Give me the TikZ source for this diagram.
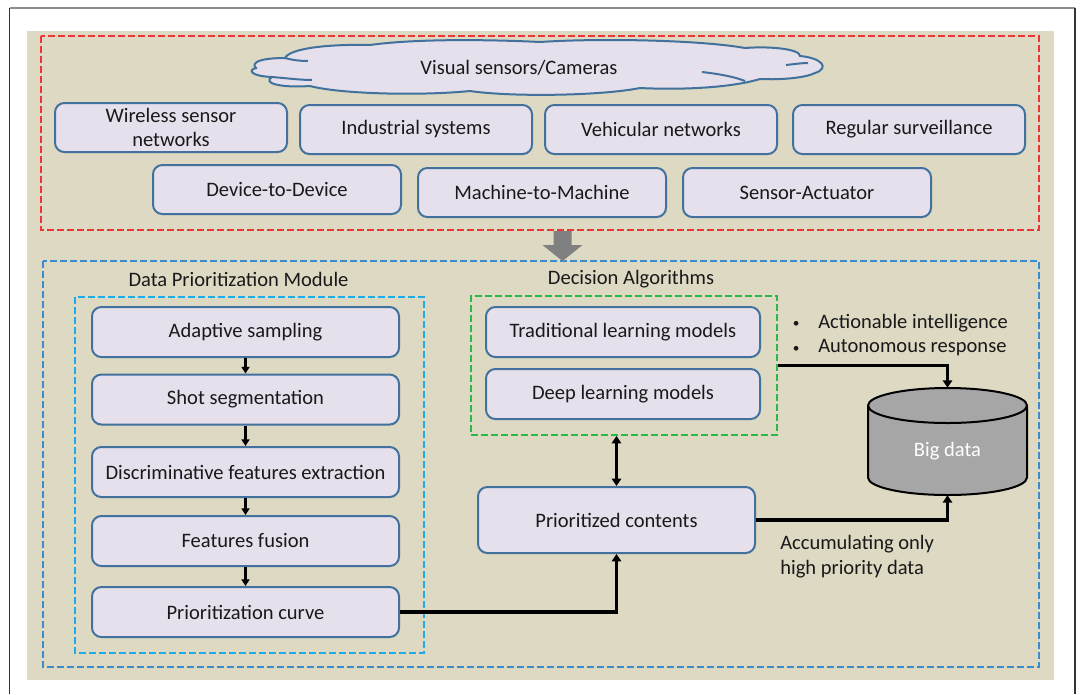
\documentclass[tikz,border=0pt]{standalone}
\usepackage{fontspec}
\setmainfont{Carlito}
\usetikzlibrary{arrows.meta}
\definecolor{bgtan}{RGB}{221,217,195}
\definecolor{boxfill}{RGB}{230,224,236}
\definecolor{boxedge}{RGB}{65,113,156}
\definecolor{redd}{RGB}{238,52,52}
\definecolor{blued}{RGB}{58,140,204}
\definecolor{cyand}{RGB}{30,172,232}
\definecolor{greend}{RGB}{40,185,70}
\definecolor{arrowgray}{RGB}{128,128,128}
\definecolor{cylgray}{RGB}{166,166,166}
\definecolor{txt}{RGB}{25,25,25}
\begin{document}
\begin{tikzpicture}[x=0.75pt,y=-0.75pt,
  every node/.style={font=\fontsize{15.4}{18.75}\selectfont, text=txt},
  sz/.style 2 args={minimum width=#1*0.75pt, minimum height=#2*0.75pt},
  box/.style={draw=boxedge, fill=boxfill, line width=1.5pt, rounded corners=7pt, inner sep=0pt, align=center},
  dashbox/.style={line width=1.4pt, dash pattern=on 5pt off 2.5pt},
  flow/.style={line width=1.6pt, -{Triangle[length=5pt,width=6pt]}},
  conn/.style={line width=2.3pt, -{Triangle[length=5.5pt,width=7pt]}},
  dconn/.style={line width=2.3pt, {Triangle[length=5.5pt,width=7pt]}-{Triangle[length=5.5pt,width=7pt]}},
  cloudline/.style={draw=boxedge, line width=1.5pt}
]
\useasboundingbox (0,0) rectangle (1083,694);
\fill[white] (0,0) rectangle (1083,694);
% outer frame
\draw[black!45, line width=1.5pt] (9.5,8) -- (1075,8);
\draw[black!80, line width=1pt] (9.5,8) -- (9.5,694);
\draw[black!80, line width=1pt] (1075,8) -- (1075,694);
% tan background
\fill[bgtan] (27,31) rectangle (1054,680);
% containers
\draw[redd, dashbox] (41,36) rectangle (1039,230);
\draw[blued, dashbox] (43,261) rectangle (1039,667);
\draw[cyand, dashbox] (75,297) rectangle (424,653);

% cloud
\path[cloudline, fill=boxfill] (256,68)
  .. controls (250,62) and (262,58) .. (285,58)
  .. controls (290,48) and (330,44) .. (370,45)
  .. controls (420,38) and (500,40) .. (540,42)
  .. controls (600,38) and (700,40) .. (745,48)
  .. controls (770,46) and (800,49) .. (800,56)
  .. controls (822,58) and (830,68) .. (815,73)
  .. controls (805,78) and (780,80) .. (760,79)
  .. controls (730,88) and (680,90) .. (640,88)
  .. controls (600,96) and (510,97) .. (470,91)
  .. controls (420,96) and (340,94) .. (310,86)
  .. controls (280,88) and (262,83) .. (272,77)
  .. controls (250,76) and (248,70) .. (256,68) -- cycle;
\draw[cloudline] (272,77) .. controls (285,78) and (300,80) .. (312,80);
\draw[cloudline] (285,58) .. controls (292,60) and (300,61) .. (308,61);
\draw[cloudline] (702,72) .. controls (720,74) and (735,77) .. (745,81);
\draw[cloudline] (786,65) .. controls (795,64) and (802,63) .. (808,63);
\node (cloudtxt) at (519,68) {Visual sensors/Cameras};

% application boxes
\node[box, sz={232}{49}, font=\fontsize{15.4}{17.6}\selectfont] (wsn) at (171,127.5) {Wireless sensor\\networks};
\node[box, sz={232}{49}] (ind) at (416,129.5) {Industrial systems};
\node[box, sz={232}{49}] (veh) at (661,129.5) {Vehicular networks};
\node[box, sz={232}{49}] (reg) at (909,129.5) {Regular surveillance};
\node[box, sz={248}{49}] (d2d) at (277,189.5) {Device-to-Device};
\node[box, sz={248}{49}] (m2m) at (542,192.5) {Machine-to-Machine};
\node[box, sz={248}{49}] (sa) at (807,192.5) {Sensor-Actuator};

% gray block arrow
\fill[arrowgray] (553.5,231) -- (571.5,231) -- (571.5,245) -- (582.5,245) -- (562.5,261) -- (542.5,245) -- (553.5,245) -- cycle;

% data prioritization module
\node (dpmlabel) at (238.5,279) {Data Prioritization Module};
\node[box, sz={307}{50}] (as) at (245.5,332) {Adaptive sampling};
\node[box, sz={307}{50}] (ss) at (245.5,399.5) {Shot segmentation};
\node[box, sz={307}{50}] (dfe) at (245.5,472) {Discriminative features extraction};
\node[box, sz={307}{50}] (ff) at (245.5,541) {Features fusion};
\node[box, sz={307}{50}] (pc) at (245.5,612) {Prioritization curve};
\draw[flow] (as) -- (ss);
\draw[flow] (ss) -- (dfe);
\draw[flow] (dfe) -- (ff);
\draw[flow] (ff) -- (pc);

% decision algorithms
\node (dalabel) at (631,279) {Decision Algorithms};
\node[draw=greend, dashbox, sz={306}{139}, inner sep=0pt] (da) at (624,365.5) {};
\node[box, sz={274}{50}] (tlm) at (623,332) {Traditional learning models};
\node[box, sz={274}{50}] (dlm) at (623,394) {Deep learning models};
\node[box, sz={277}{66}] (pcont) at (616.5,520) {Prioritized contents};

% bullets
\node[anchor=west, inner sep=0pt] (b1) at (792,323) {\makebox[19.5pt][l]{\hspace{0.5pt}\raisebox{0.6pt}{\fontsize{10}{10}\selectfont\textbullet}}Actionable intelligence};
\node[anchor=west, inner sep=0pt] (b2) at (792,348) {\makebox[19.5pt][l]{\hspace{0.5pt}\raisebox{0.6pt}{\fontsize{10}{10}\selectfont\textbullet}}Autonomous response};

% big data cylinder
\node[sz={159}{107}, inner sep=0pt] (bd) at (947.5,441.5) {};
\path[draw=black, fill=cylgray, line width=1.5pt] (868,405.5) -- (868,477.5)
  .. controls (868,487.2) and (903.6,495) .. (947.5,495)
  .. controls (991.4,495) and (1027,487.2) .. (1027,477.5) -- (1027,405.5)
  .. controls (1027,395.8) and (991.4,388) .. (947.5,388)
  .. controls (903.6,388) and (868,395.8) .. (868,405.5) -- cycle;
\draw[black, line width=1.5pt] (868,405.5) .. controls (868,415.2) and (903.6,423) .. (947.5,423)
  .. controls (991.4,423) and (1027,415.2) .. (1027,405.5);
\node[text=white] (bdtext) at (947.5,451) {Big data};

% accumulating text
\node[anchor=west, align=left, inner sep=0pt] (acc) at (780,556.5) {Accumulating only\\high priority data};

% connectors
\draw[conn] (pc.east) -| (pcont.south);
\draw[dconn] (pcont.north |- da.south) -- (pcont.north);
\draw[conn] (da.east) -| (bd.north);
\draw[conn] (pcont.east) -| (bd.south);
\end{tikzpicture}
\end{document}
